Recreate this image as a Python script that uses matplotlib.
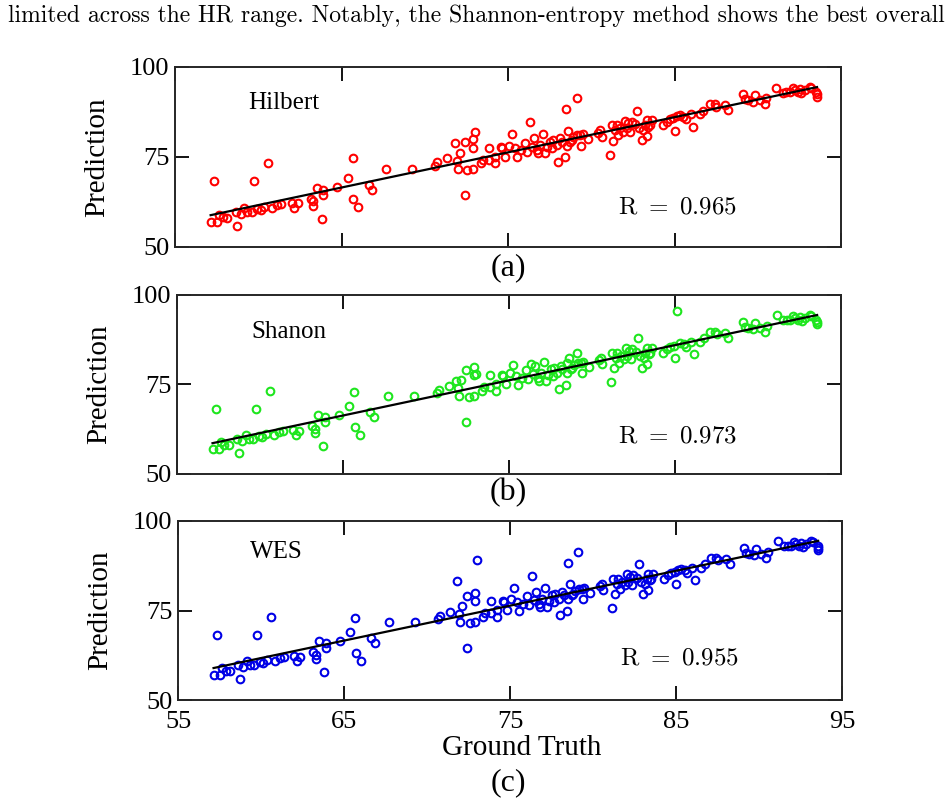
import numpy as np
import matplotlib.pyplot as plt

plt.rcParams['font.family'] = ['Liberation Serif', 'DejaVu Serif']
plt.rcParams['mathtext.fontset'] = 'cm'

# Ground truth HR (shared by all three panels)
ground_truth = [
    57.14, 57.34, 57.54, 57.64, 57.86, 58.14, 58.64, 58.74, 58.94, 59.14,
    59.34, 59.60, 59.74, 59.94, 60.14, 60.34, 60.60, 60.82, 61.14, 61.36,
    62.00, 62.14, 62.36, 63.16, 63.30, 63.30, 63.50, 63.80, 63.90, 63.90,
    64.74, 65.36, 65.66, 65.70, 66.00, 66.64, 66.86, 67.70, 69.26, 70.64,
    70.76, 71.36, 71.80, 71.94, 72.00, 72.10, 72.40, 72.40, 72.56, 72.90,
    72.90, 72.90, 73.00, 73.40, 73.50, 73.86, 73.86, 74.20, 74.20, 74.56,
    74.62, 74.82, 75.08, 75.22, 75.42, 75.56, 75.76, 76.02, 76.12, 76.32,
    76.42, 76.58, 76.72, 76.82, 76.92, 77.12, 77.22, 77.32, 77.52, 77.62,
    77.72, 77.92, 78.02, 78.12, 78.22, 78.42, 78.48, 78.52, 78.62, 78.72,
    78.82, 78.92, 79.12, 79.16, 79.32, 79.38, 79.48, 79.82, 80.42, 80.52,
    80.62, 81.12, 81.22, 81.32, 81.42, 81.52, 81.62, 81.72, 81.92, 82.02,
    82.12, 82.22, 82.32, 82.42, 82.62, 82.76, 82.88, 83.02, 83.12, 83.22,
    83.32, 83.32, 83.42, 83.52, 83.62, 84.28, 84.52, 84.72, 84.92, 85.02,
    85.12, 85.32, 85.52, 85.68, 85.96, 86.12, 86.52, 86.72, 87.12, 87.42,
    87.52, 88.02, 88.22, 89.12, 89.22, 89.42, 89.72, 89.82, 90.12, 90.42,
    90.52, 91.12, 91.52, 91.72, 91.92, 92.12, 92.22, 92.42, 92.52, 92.62,
    92.82, 93.12, 93.22, 93.52, 93.56, 93.56,
]

hilbert = [
    57.0, 68.2, 57.0, 58.9, 58.2, 58.1, 59.8, 55.9, 59.2, 60.9,
    59.8, 59.8, 68.2, 60.6, 60.3, 61.2, 73.2, 60.9, 61.7, 61.9,
    62.3, 60.9, 62.1, 63.4, 62.7, 61.4, 66.5, 57.7, 65.8, 64.4,
    66.6, 69.1, 74.6, 63.2, 61.0, 67.2, 65.8, 71.7, 71.7, 72.6,
    73.5, 74.6, 78.8, 74.0, 71.8, 76.2, 79.1, 64.4, 71.4, 77.6,
    79.9, 71.8, 81.9, 73.2, 74.2, 77.6, 74.2, 73.2, 75.1, 77.7,
    77.4, 75.1, 78.1, 81.4, 77.4, 74.9, 76.9, 79.0, 76.5, 84.6,
    77.9, 80.2, 76.9, 76.0, 78.3, 81.4, 76.0, 77.7, 79.3, 77.4,
    79.7, 78.3, 73.7, 80.2, 79.3, 74.9, 88.2, 78.1, 82.3, 79.3,
    79.7, 80.5, 91.3, 81.1, 81.1, 78.1, 81.4, 79.9, 81.8, 82.5,
    80.6, 75.6, 83.9, 79.5, 82.5, 83.9, 81.1, 83.0, 82.0, 85.1,
    83.0, 84.4, 82.0, 84.8, 84.2, 87.9, 83.0, 79.7, 82.5, 83.9,
    80.8, 85.3, 83.4, 83.9, 85.3, 83.9, 84.8, 85.5, 85.7, 82.3,
    86.4, 86.7, 86.2, 85.5, 86.9, 83.4, 86.9, 87.9, 89.6, 89.6,
    89.0, 89.4, 88.1, 92.5, 91.0, 90.8, 90.4, 92.2, 90.8, 89.7,
    91.3, 94.3, 92.9, 93.1, 93.1, 94.1, 93.6, 93.1, 93.8, 92.7,
    93.6, 94.5, 94.1, 93.1, 92.5, 91.8,
]

shanon = [
    57.0, 68.2, 57.0, 58.9, 58.2, 58.1, 59.8, 55.9, 59.2, 60.9,
    59.8, 59.8, 68.2, 60.6, 60.3, 61.2, 73.2, 60.9, 61.7, 61.9,
    62.3, 60.9, 62.1, 63.4, 62.7, 61.4, 66.5, 57.7, 65.8, 64.4,
    66.6, 69.1, 72.8, 63.2, 61.0, 67.2, 65.8, 71.7, 71.7, 72.6,
    73.5, 74.6, 76.0, 74.0, 71.8, 76.2, 79.1, 64.4, 71.4, 77.6,
    79.9, 71.8, 78.0, 73.2, 74.2, 77.6, 74.2, 73.2, 75.1, 77.7,
    77.4, 75.1, 78.1, 80.4, 77.4, 74.9, 76.9, 79.0, 76.5, 80.6,
    77.9, 80.2, 76.9, 76.0, 78.3, 81.4, 76.0, 77.7, 79.3, 77.4,
    79.7, 78.3, 73.7, 80.2, 79.3, 74.9, 81.0, 78.1, 82.3, 79.3,
    79.7, 80.5, 83.8, 81.1, 81.1, 78.1, 81.4, 79.9, 81.8, 82.5,
    80.6, 75.6, 83.9, 79.5, 82.5, 83.9, 81.1, 83.0, 82.0, 85.1,
    83.0, 84.4, 82.0, 84.8, 84.2, 87.9, 83.0, 79.7, 82.5, 83.9,
    80.8, 85.3, 83.4, 83.9, 85.3, 83.9, 84.8, 85.5, 85.7, 82.3,
    95.6, 86.7, 86.2, 85.5, 86.9, 83.4, 86.9, 87.9, 89.6, 89.6,
    89.0, 89.4, 88.1, 92.5, 91.0, 90.8, 90.4, 92.2, 90.8, 89.7,
    91.3, 94.3, 92.9, 93.1, 93.1, 94.1, 93.6, 93.1, 93.8, 92.7,
    93.6, 94.5, 94.1, 93.1, 92.5, 91.8,
]

wes = [
    57.0, 68.2, 57.0, 58.9, 58.2, 58.1, 59.8, 55.9, 59.2, 60.9,
    59.8, 59.8, 68.2, 60.6, 60.3, 61.2, 73.2, 60.9, 61.7, 61.9,
    62.3, 60.9, 62.1, 63.4, 62.7, 61.4, 66.5, 57.7, 65.8, 64.4,
    66.6, 69.1, 72.8, 63.2, 61.0, 67.2, 65.8, 71.7, 71.7, 72.6,
    73.5, 74.6, 83.3, 74.0, 71.8, 76.2, 79.1, 64.4, 71.4, 77.6,
    79.9, 71.8, 89.1, 73.2, 74.2, 77.6, 74.2, 73.2, 75.1, 77.7,
    77.4, 75.1, 78.1, 81.4, 77.4, 74.9, 76.9, 79.0, 76.5, 84.6,
    77.9, 80.2, 76.9, 76.0, 78.3, 81.4, 76.0, 77.7, 79.3, 77.4,
    79.7, 78.3, 73.7, 80.2, 79.3, 74.9, 88.2, 78.1, 82.3, 79.3,
    79.7, 80.5, 91.3, 81.1, 81.1, 78.1, 81.4, 79.9, 81.8, 82.5,
    80.6, 75.6, 83.9, 79.5, 82.5, 83.9, 81.1, 83.0, 82.0, 85.1,
    83.0, 84.4, 82.0, 84.8, 84.2, 87.9, 83.0, 79.7, 82.5, 83.9,
    80.8, 85.3, 83.4, 83.9, 85.3, 83.9, 84.8, 85.5, 85.7, 82.3,
    86.4, 86.7, 86.2, 85.5, 86.9, 83.4, 86.9, 87.9, 89.6, 89.6,
    89.0, 89.4, 88.1, 92.5, 91.0, 90.8, 90.4, 92.2, 90.8, 89.7,
    91.3, 94.3, 92.9, 93.1, 93.1, 94.1, 93.6, 93.1, 93.8, 92.7,
    93.6, 94.5, 94.1, 93.1, 92.5, 91.8,
]

methods = ['Hilbert', 'Shanon', 'WES']
predictions = [hilbert, shanon, wes]
r_values = ['0.965', '0.973', '0.955']
colors = ['#ff0000', '#1ee61e', '#0000e6']
panel_tags = ['(a)', '(b)', '(c)']

x_ticks = [55, 65, 75, 85, 95]
y_ticks = [50, 75, 100]

fig = plt.figure(figsize=(9.47, 8.09), dpi=100)

# axes rectangles (left, bottom, width, height)
rects = [
    [0.1848, 0.6947, 0.7033, 0.2225],
    [0.1869, 0.4141, 0.7012, 0.2213],
    [0.1880, 0.1347, 0.7012, 0.2213],
]
name_pos = [(0.11, 0.80), (0.112, 0.795), (0.108, 0.828)]
r_pos = [(0.754, 0.22), (0.754, 0.208), (0.755, 0.233)]
tag_y = [0.6687, 0.3906, 0.0321]

x = np.array(ground_truth)
for i in range(3):
    ax = fig.add_axes(rects[i])
    y = np.array(predictions[i])
    ax.plot(x, y, 'o', mfc='none', mec=colors[i], ms=5.5, mew=1.5, zorder=2)

    # linear fit
    k, b = np.polyfit(x, y, 1)
    xs = np.array([x.min(), x.max()])
    ax.plot(xs, k * xs + b, color='black', lw=1.6, zorder=3)

    ax.set_xlim(55, 95)
    ax.set_ylim(50, 100)
    ax.set_xticks(x_ticks)
    ax.set_yticks(y_ticks)
    ax.tick_params(direction='in', length=10, width=1.3, top=True, right=True,
                   labelsize=19, pad=4)
    ax.tick_params(axis='x', pad=8)
    for s in ax.spines.values():
        s.set_linewidth(1.4)
        s.set_color('#262626')
    if i < 2:
        ax.set_xticklabels([])
    ax.set_ylabel('Prediction', fontsize=21)
    ax.yaxis.set_label_coords(-0.098, 0.5)

    ax.text(name_pos[i][0], name_pos[i][1], methods[i], transform=ax.transAxes,
            fontsize=18, ha='left', va='center')
    ax.text(r_pos[i][0], r_pos[i][1], r'$\mathrm{R}\ =\ ' + r_values[i] + '$',
            transform=ax.transAxes, fontsize=18, ha='center', va='center')

    fig.text(0.5365, tag_y[i], panel_tags[i], fontsize=23, ha='center', va='center')

fig.text(0.551, 0.0754, 'Ground Truth', fontsize=21, ha='center', va='center')

fig.text(0.503, 0.980,
         'limited across the HR range. Notably, the Shannon-entropy method shows the best overall',
         fontsize=17, ha='center', va='center', family=['cmr10', 'DejaVu Serif'])

fig.savefig('out.png', dpi=100)
